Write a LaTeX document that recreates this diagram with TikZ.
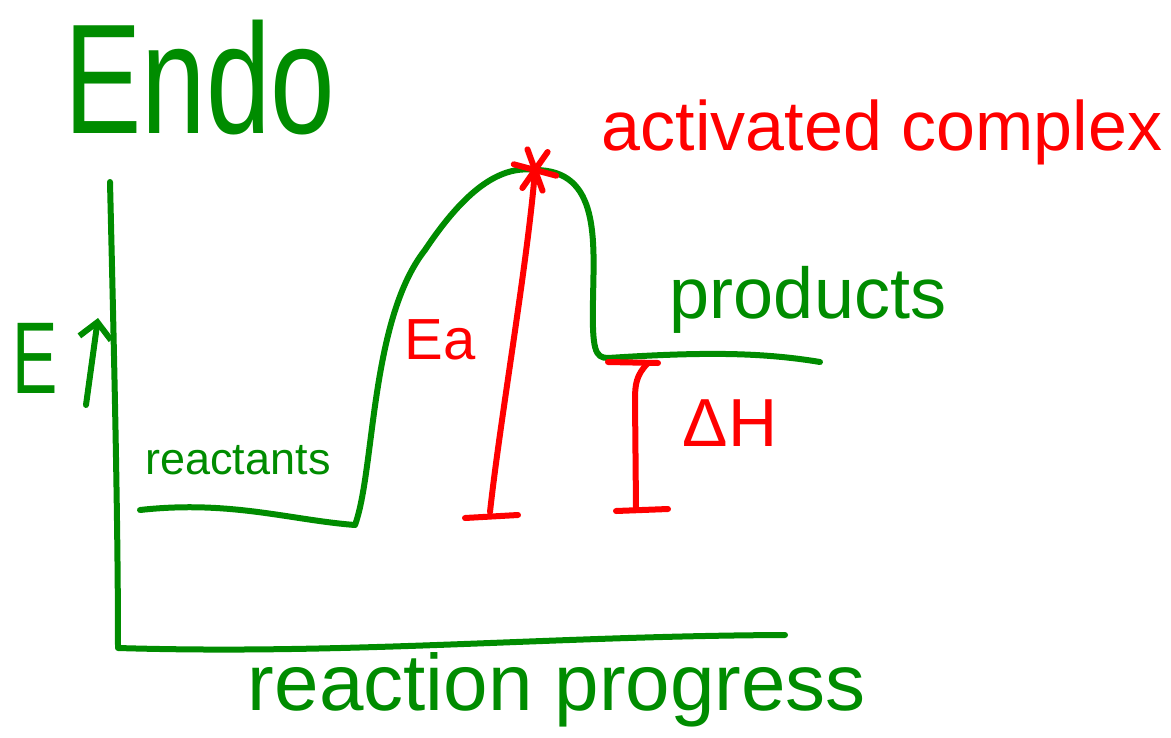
\documentclass[tikz,border=0pt]{standalone}
\usepackage{fontspec}
\setmainfont{Liberation Sans}
\usetikzlibrary{arrows.meta,positioning,calc}
\definecolor{penGreen}{RGB}{0,140,0}
\definecolor{penRed}{RGB}{255,0,0}
\tikzset{
  green pen/.style={draw=penGreen, line width=6pt, line cap=round, line join=round},
  red pen/.style={draw=penRed, line width=6pt, line cap=round, line join=round},
  greentext/.style={text=penGreen, inner sep=0pt},
  redtext/.style={text=penRed, inner sep=0pt}
}
\begin{document}
\begin{tikzpicture}[x=1pt, y=-1pt]
\useasboundingbox (0,0) rectangle (1171,737);
% labels
\node[greentext] (endo) at (200,78) {\scalebox{1}[1.35]{\fontsize{116}{116}\selectfont Endo}};
\node[greentext, anchor=west] (elabel) at (12,358) {\scalebox{1}[1.5]{\fontsize{68}{68}\selectfont E}};
\node[greentext] (react) at (238,460) {\fontsize{45}{45}\selectfont reactants};
\node[greentext] (prod) at (808,300) {\fontsize{72}{72}\selectfont products};
\node[greentext] (progress) at (557,690) {\fontsize{80}{80}\selectfont reaction progress};
\node[redtext] (actc) at (882,132) {\fontsize{70}{70}\selectfont activated complex};
\node[redtext] (ea) at (440,340) {\fontsize{58}{58}\selectfont Ea};
\node[redtext] (dh) at (730,423) {\fontsize{68}{68}\selectfont ΔH};
% axes
\coordinate (ytop) at (110,182);
\coordinate (origin) at (118,648);
\coordinate (xend) at (785,635);
\draw[green pen] (ytop) .. controls (114,350) and (118,520) .. (origin)
  .. controls (350,655) and (550,636) .. (xend);
\draw[green pen, -{Straight Barb[length=16pt, width=32pt]}] (86,405) -- (98,318);
% energy curve
\coordinate (rstart) at (140,510);
\coordinate (rend) at (355,525);
\coordinate (peak) at (535,170);
\coordinate (pstart) at (608,358);
\coordinate (pend) at (820,362);
\draw[green pen] (rstart) .. controls (230,500) and (290,520) .. (rend)
  .. controls (375,470) and (370,320) .. (425,250)
  .. controls (465,190) and (500,165) .. (peak)
  .. controls (600,170) and (594,240) .. (593,300)
  .. controls (592,350) and (595,358) .. (pstart)
  .. controls (700,352) and (760,352) .. (pend);
% activated complex star
\foreach \a in {15,70,125}
  \draw[red pen] ($(peak)+(\a:22)$) -- ($(peak)+(\a+180:22)$);
% Ea bar
\coordinate (eabase) at (490,512);
\draw[red pen] (peak) .. controls (528,260) and (500,420) .. (eabase);
\draw[red pen] (465,518) -- (518,515);
% Delta H bar
\coordinate (dhtop) at (648,363);
\coordinate (dhbase) at (636,508);
\draw[red pen] (608,362) -- (658,363);
\draw[red pen] (dhtop) .. controls (636,375) and (635,385) .. (635,400) -- (dhbase);
\draw[red pen] (616,511) -- (668,509);
\end{tikzpicture}
\end{document}
